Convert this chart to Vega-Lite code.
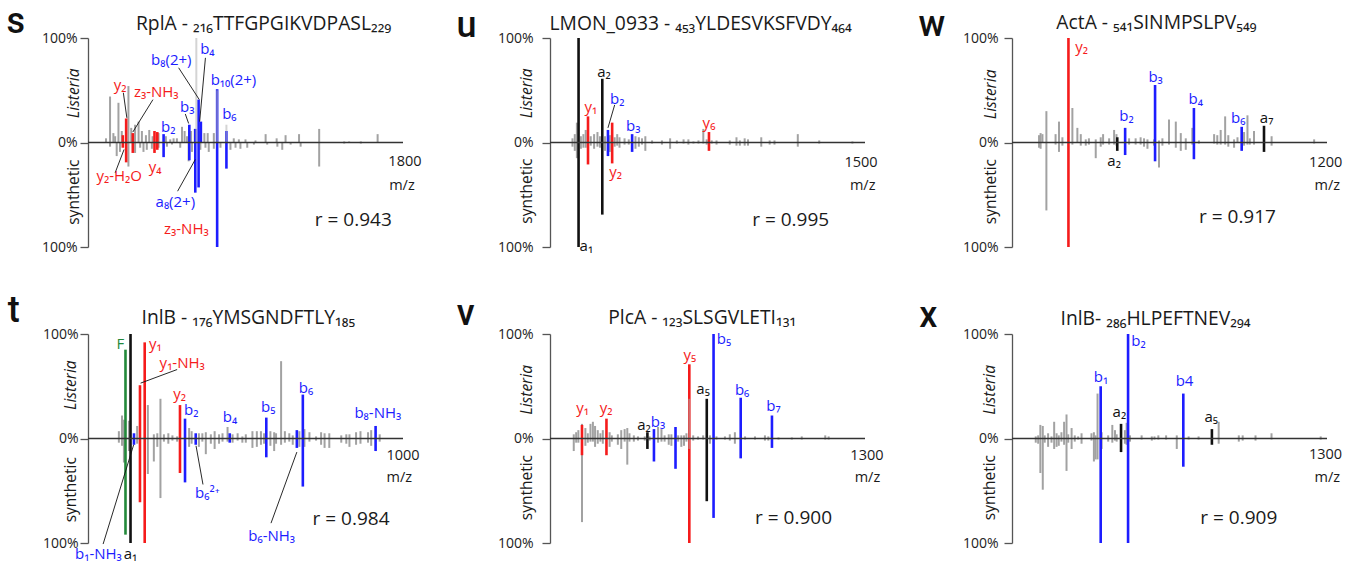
{
"$schema":"https://vega.github.io/schema/vega-lite/v6.json",
"background":"white",
"padding":{"left":6,"top":3,"right":5,"bottom":2},
"bounds":"flush",
"columns":3,
"spacing":{"row":87,"column":147},
"config":{"view":{"stroke":null},"font":"Open Sans",
"axisY":{"grid":false,"domainColor":"#555","domainWidth":1.3,"tickColor":"#555","tickWidth":1.3,"tickSize":8,"labelFontSize":14,"labelColor":"#222","labelFont":"Open Sans"}},
"datasets":{
"pS":[{"mz":103,"int":4,"ion":"u"},{"mz":126,"int":44,"ion":"u"},{"mz":145,"int":9,"ion":"u"},{"mz":155,"int":6,"ion":"u"},{"mz":174,"int":38,"ion":"u"},{"mz":193,"int":11,"ion":"u"},{"mz":231,"int":54,"ion":"u"},{"mz":247,"int":14,"ion":"u"},{"mz":269,"int":17,"ion":"u"},{"mz":289,"int":20,"ion":"u"},{"mz":308,"int":11,"ion":"u"},{"mz":331,"int":7,"ion":"u"},{"mz":350,"int":12,"ion":"u"},{"mz":369,"int":6,"ion":"u"},{"mz":403,"int":9,"ion":"u"},{"mz":445,"int":6,"ion":"u"},{"mz":470,"int":3,"ion":"u"},{"mz":489,"int":4,"ion":"u"},{"mz":508,"int":4,"ion":"u"},{"mz":537,"int":15,"ion":"u"},{"mz":552,"int":11,"ion":"u"},{"mz":566,"int":6,"ion":"u"},{"mz":589,"int":11,"ion":"u"},{"mz":610,"int":13,"ion":"u"},{"mz":642,"int":11,"ion":"u"},{"mz":665,"int":9,"ion":"u"},{"mz":684,"int":9,"ion":"u"},{"mz":719,"int":9,"ion":"u"},{"mz":833,"int":4,"ion":"u"},{"mz":862,"int":3,"ion":"u"},{"mz":900,"int":3,"ion":"u"},{"mz":957,"int":2,"ion":"u"},{"mz":1015,"int":8,"ion":"u"},{"mz":1078,"int":4,"ion":"u"},{"mz":1129,"int":7,"ion":"u"},{"mz":1206,"int":8,"ion":"u"},{"mz":1321,"int":13,"ion":"u"},{"mz":1464,"int":1,"ion":"u"},{"mz":1492,"int":1,"ion":"u"},{"mz":1559,"int":1,"ion":"u"},{"mz":1655,"int":8,"ion":"u"},
{"mz":126,"int":-4,"ion":"u"},{"mz":164,"int":-13,"ion":"u"},{"mz":183,"int":-9,"ion":"u"},{"mz":231,"int":-23,"ion":"u"},{"mz":269,"int":-10,"ion":"u"},{"mz":298,"int":-5,"ion":"u"},{"mz":317,"int":-9,"ion":"u"},{"mz":336,"int":-7,"ion":"u"},{"mz":365,"int":-6,"ion":"u"},{"mz":403,"int":-5,"ion":"u"},{"mz":451,"int":-4,"ion":"u"},{"mz":480,"int":-2,"ion":"u"},{"mz":527,"int":-5,"ion":"u"},{"mz":575,"int":-18,"ion":"u"},{"mz":594,"int":-9,"ion":"u"},{"mz":642,"int":-7,"ion":"u"},{"mz":671,"int":-5,"ion":"u"},{"mz":690,"int":-9,"ion":"u"},{"mz":719,"int":-6,"ion":"u"},{"mz":757,"int":-5,"ion":"u"},{"mz":814,"int":-7,"ion":"u"},{"mz":843,"int":-5,"ion":"u"},{"mz":871,"int":-6,"ion":"u"},{"mz":910,"int":-5,"ion":"u"},{"mz":948,"int":-2,"ion":"u"},{"mz":1024,"int":-2,"ion":"u"},{"mz":1082,"int":-4,"ion":"u"},{"mz":1110,"int":-7,"ion":"u"},{"mz":1158,"int":-2,"ion":"u"},{"mz":1215,"int":-4,"ion":"u"},{"mz":1321,"int":-23,"ion":"u"},{"mz":1464,"int":-1,"ion":"u"},{"mz":1559,"int":-1,"ion":"u"},
{"mz":199,"int":7,"ion":"y"},{"mz":199,"int":-5,"ion":"y"},{"mz":218,"int":23,"ion":"y"},{"mz":218,"int":-19,"ion":"y"},{"mz":256,"int":9,"ion":"y"},{"mz":256,"int":-10,"ion":"y"},{"mz":380,"int":11,"ion":"y"},{"mz":380,"int":-10,"ion":"y"},{"mz":396,"int":10,"ion":"y"},{"mz":396,"int":-7,"ion":"y"},
{"mz":432,"int":8,"ion":"b"},{"mz":432,"int":-14,"ion":"b"},{"mz":579,"int":17,"ion":"b"},{"mz":579,"int":-17,"ion":"b"},{"mz":613,"int":13,"ion":"b"},{"mz":613,"int":-48,"ion":"b"},{"mz":632,"int":41,"ion":"b"},{"mz":632,"int":-43,"ion":"b"},{"mz":645,"int":20,"ion":"b"},{"mz":738,"int":51,"ion":"b"},{"mz":738,"int":-100,"ion":"b"},{"mz":791,"int":11,"ion":"b"},{"mz":791,"int":-25,"ion":"b"},
{"mz":619,"int":100,"ion":"uf"},{"mz":738,"int":50,"ion":"uf"},{"mz":791,"int":17,"ion":"uf"}],
"lS":[{"mz":183,"int":55.5,"t":"y₂","ion":"y"},{"mz":390,"int":48,"t":"z₃-NH₃","ion":"y"},{"mz":459,"int":15,"t":"b₂","ion":"b"},{"mz":567,"int":33.5,"t":"b₃","ion":"b"},{"mz":476,"int":79,"t":"b₈(2+)","ion":"b"},{"mz":682,"int":89,"t":"b₄","ion":"b"},{"mz":831,"int":60,"t":"b₁₀(2+)","ion":"b"},{"mz":808,"int":27,"t":"b₆","ion":"b"},{"mz":384,"int":-23,"t":"y₄","ion":"y"},{"mz":178,"int":-32.5,"t":"y₂-H₂O","ion":"y"},{"mz":499,"int":-57,"t":"a₈(2+)","ion":"b"},{"mz":562,"int":-83,"t":"z₃-NH₃","ion":"y"}],
"sS":[{"mz":202,"int":47.6,"mz2":222,"int2":23.6},{"mz":371,"int":41,"mz2":256,"int2":10},{"mz":556,"int":27.3,"mz2":575,"int2":18.2},{"mz":518,"int":71.5,"mz2":636,"int2":41},{"mz":671,"int":81,"mz2":638,"int2":20},{"mz":155,"int":-29,"mz2":206,"int2":-6.7},{"mz":512,"int":-46.6,"mz2":613,"int2":-16.3}],
"aS":[{"mz":1811,"int":-19,"t":"1800","role":"axis"},{"mz":1794,"int":-42,"t":"m/z","role":"axis"},{"mz":1516,"int":-74,"t":"r = 0.943","role":"r"},{"mz":1003,"int":113,"t":"RplA - ₂₁₆TTFGPGIKVDPASL₂₂₉","role":"title"},{"mz":-413,"int":104.8,"t":"s","role":"panel"},{"mz":-82,"int":47,"t":"Listeria","role":"src"},{"mz":-82,"int":-47.5,"t":"synthetic","role":"syn"}],
"pU":[{"mz":107,"int":4,"ion":"u"},{"mz":118,"int":8,"ion":"u"},{"mz":128,"int":19,"ion":"u"},{"mz":147,"int":6,"ion":"u"},{"mz":159,"int":8,"ion":"u"},{"mz":170,"int":12,"ion":"u"},{"mz":194,"int":6,"ion":"u"},{"mz":210,"int":8,"ion":"u"},{"mz":226,"int":10,"ion":"u"},{"mz":238,"int":6,"ion":"u"},{"mz":262,"int":6,"ion":"u"},{"mz":285,"int":7,"ion":"u"},{"mz":308,"int":5,"ion":"u"},{"mz":320,"int":8,"ion":"u"},{"mz":331,"int":5,"ion":"u"},{"mz":355,"int":4,"ion":"u"},{"mz":375,"int":3,"ion":"u"},{"mz":407,"int":6,"ion":"u"},{"mz":423,"int":5,"ion":"u"},{"mz":438,"int":4,"ion":"u"},{"mz":454,"int":6,"ion":"u"},{"mz":486,"int":2,"ion":"u"},{"mz":533,"int":2,"ion":"u"},{"mz":572,"int":4,"ion":"u"},{"mz":604,"int":2,"ion":"u"},{"mz":636,"int":3,"ion":"u"},{"mz":659,"int":3,"ion":"u"},{"mz":683,"int":1,"ion":"u"},{"mz":707,"int":2,"ion":"u"},{"mz":730,"int":13,"ion":"u"},{"mz":746,"int":3,"ion":"u"},{"mz":770,"int":2,"ion":"u"},{"mz":793,"int":2,"ion":"u"},{"mz":856,"int":2,"ion":"u"},{"mz":888,"int":5,"ion":"u"},{"mz":904,"int":2,"ion":"u"},{"mz":927,"int":4,"ion":"u"},{"mz":943,"int":3,"ion":"u"},{"mz":1006,"int":5,"ion":"u"},{"mz":1046,"int":2,"ion":"u"},{"mz":1069,"int":2,"ion":"u"},{"mz":1180,"int":8,"ion":"u"},{"mz":1282,"int":2,"ion":"u"},{"mz":1440,"int":1,"ion":"u"},
{"mz":107,"int":-4,"ion":"u"},{"mz":118,"int":-8,"ion":"u"},{"mz":128,"int":-15,"ion":"u"},{"mz":147,"int":-6,"ion":"u"},{"mz":159,"int":-5,"ion":"u"},{"mz":170,"int":-5,"ion":"u"},{"mz":194,"int":-3,"ion":"u"},{"mz":210,"int":-6,"ion":"u"},{"mz":226,"int":-4,"ion":"u"},{"mz":238,"int":-5,"ion":"u"},{"mz":262,"int":-8,"ion":"u"},{"mz":285,"int":-9,"ion":"u"},{"mz":308,"int":-4,"ion":"u"},{"mz":320,"int":-3,"ion":"u"},{"mz":331,"int":-5,"ion":"u"},{"mz":355,"int":-2,"ion":"u"},{"mz":375,"int":-2,"ion":"u"},{"mz":407,"int":-6,"ion":"u"},{"mz":423,"int":-4,"ion":"u"},{"mz":438,"int":-2,"ion":"u"},{"mz":454,"int":-8,"ion":"u"},{"mz":486,"int":-1,"ion":"u"},{"mz":533,"int":-2,"ion":"u"},{"mz":572,"int":-6,"ion":"u"},{"mz":604,"int":-1,"ion":"u"},{"mz":636,"int":-1,"ion":"u"},{"mz":659,"int":-2,"ion":"u"},{"mz":683,"int":-1,"ion":"u"},{"mz":707,"int":-1,"ion":"u"},{"mz":730,"int":-1,"ion":"u"},{"mz":746,"int":-2,"ion":"u"},{"mz":770,"int":-1,"ion":"u"},{"mz":793,"int":-2,"ion":"u"},{"mz":856,"int":-2,"ion":"u"},{"mz":888,"int":-3,"ion":"u"},{"mz":904,"int":-3,"ion":"u"},{"mz":927,"int":-3,"ion":"u"},{"mz":943,"int":-3,"ion":"u"},{"mz":1006,"int":-4,"ion":"u"},{"mz":1046,"int":-2,"ion":"u"},{"mz":1069,"int":-2,"ion":"u"},{"mz":1180,"int":-4,"ion":"u"},{"mz":1282,"int":-1,"ion":"u"},{"mz":1440,"int":-1,"ion":"u"},
{"mz":136,"int":100,"ion":"a"},{"mz":136,"int":-100,"ion":"a"},{"mz":249,"int":61,"ion":"a"},{"mz":249,"int":-69,"ion":"a"},
{"mz":181,"int":25,"ion":"y"},{"mz":181,"int":-21,"ion":"y"},{"mz":296,"int":19,"ion":"y"},{"mz":296,"int":-20,"ion":"y"},{"mz":757,"int":10,"ion":"y"},{"mz":757,"int":-8,"ion":"y"},
{"mz":276,"int":12,"ion":"b"},{"mz":276,"int":-13,"ion":"b"},{"mz":391,"int":8,"ion":"b"},{"mz":391,"int":-9,"ion":"b"}],
"lU":[{"mz":257,"int":67,"t":"a₂","ion":"a"},{"mz":194,"int":34,"t":"y₁","ion":"y"},{"mz":320,"int":42,"t":"b₂","ion":"b"},{"mz":396,"int":16,"t":"b₃","ion":"b"},{"mz":757,"int":19,"t":"y₆","ion":"y"},{"mz":312,"int":-28.5,"t":"y₂","ion":"y"},{"mz":173,"int":-99,"t":"a₁","ion":"a"}],
"sU":[{"mz":308,"int":36,"mz2":276,"int2":14}],
"aU":[{"mz":1481,"int":-19.6,"t":"1500","role":"axis"},{"mz":1489,"int":-42,"t":"m/z","role":"axis"},{"mz":1146,"int":-74,"t":"r = 0.995","role":"r"},{"mz":717,"int":113,"t":"LMON_0933 - ₄₅₃YLDESVKSFVDY₄₆₄","role":"title"},{"mz":-397,"int":101.3,"t":"u","role":"panel"},{"mz":-110,"int":47,"t":"Listeria","role":"src"},{"mz":-110,"int":-46.5,"t":"synthetic","role":"syn"}],
"pW":[{"mz":103,"int":7,"ion":"u"},{"mz":109,"int":9,"ion":"u"},{"mz":116,"int":8,"ion":"u"},{"mz":131,"int":30,"ion":"u"},{"mz":166,"int":8,"ion":"u"},{"mz":179,"int":20,"ion":"u"},{"mz":192,"int":5,"ion":"u"},{"mz":230,"int":33,"ion":"u"},{"mz":249,"int":14,"ion":"u"},{"mz":262,"int":8,"ion":"u"},{"mz":281,"int":3,"ion":"u"},{"mz":293,"int":4,"ion":"u"},{"mz":319,"int":3,"ion":"u"},{"mz":338,"int":5,"ion":"u"},{"mz":347,"int":8,"ion":"u"},{"mz":370,"int":4,"ion":"u"},{"mz":389,"int":12,"ion":"u"},{"mz":398,"int":8,"ion":"u"},{"mz":446,"int":4,"ion":"u"},{"mz":471,"int":4,"ion":"u"},{"mz":490,"int":5,"ion":"u"},{"mz":503,"int":4,"ion":"u"},{"mz":516,"int":3,"ion":"u"},{"mz":541,"int":3,"ion":"u"},{"mz":560,"int":2,"ion":"u"},{"mz":573,"int":4,"ion":"u"},{"mz":598,"int":22,"ion":"u"},{"mz":624,"int":20,"ion":"u"},{"mz":643,"int":9,"ion":"u"},{"mz":662,"int":4,"ion":"u"},{"mz":687,"int":14,"ion":"u"},{"mz":712,"int":2,"ion":"u"},{"mz":770,"int":8,"ion":"u"},{"mz":782,"int":7,"ion":"u"},{"mz":795,"int":12,"ion":"u"},{"mz":812,"int":25,"ion":"u"},{"mz":824,"int":7,"ion":"u"},{"mz":846,"int":3,"ion":"u"},{"mz":859,"int":5,"ion":"u"},{"mz":884,"int":10,"ion":"u"},{"mz":897,"int":26,"ion":"u"},{"mz":906,"int":4,"ion":"u"},{"mz":922,"int":11,"ion":"u"},{"mz":989,"int":6,"ion":"u"},{"mz":1151,"int":3,"ion":"u"},
{"mz":103,"int":-5,"ion":"u"},{"mz":109,"int":-6,"ion":"u"},{"mz":131,"int":-65,"ion":"u"},{"mz":166,"int":-2,"ion":"u"},{"mz":179,"int":-9,"ion":"u"},{"mz":192,"int":-3,"ion":"u"},{"mz":230,"int":-2,"ion":"u"},{"mz":262,"int":-3,"ion":"u"},{"mz":281,"int":-3,"ion":"u"},{"mz":293,"int":-2,"ion":"u"},{"mz":319,"int":-15,"ion":"u"},{"mz":338,"int":-4,"ion":"u"},{"mz":347,"int":-2,"ion":"u"},{"mz":370,"int":-2,"ion":"u"},{"mz":389,"int":-2,"ion":"u"},{"mz":398,"int":-3,"ion":"u"},{"mz":446,"int":-2,"ion":"u"},{"mz":471,"int":-2,"ion":"u"},{"mz":490,"int":-2,"ion":"u"},{"mz":503,"int":-4,"ion":"u"},{"mz":516,"int":-6,"ion":"u"},{"mz":541,"int":-3,"ion":"u"},{"mz":560,"int":-24,"ion":"u"},{"mz":573,"int":-3,"ion":"u"},{"mz":598,"int":-2,"ion":"u"},{"mz":624,"int":-5,"ion":"u"},{"mz":643,"int":-8,"ion":"u"},{"mz":662,"int":-7,"ion":"u"},{"mz":687,"int":-2,"ion":"u"},{"mz":712,"int":-1,"ion":"u"},{"mz":770,"int":-1,"ion":"u"},{"mz":782,"int":-2,"ion":"u"},{"mz":795,"int":-2,"ion":"u"},{"mz":812,"int":-2,"ion":"u"},{"mz":824,"int":-4,"ion":"u"},{"mz":846,"int":-5,"ion":"u"},{"mz":884,"int":-3,"ion":"u"},{"mz":897,"int":-2,"ion":"u"},{"mz":906,"int":-2,"ion":"u"},{"mz":922,"int":-2,"ion":"u"},{"mz":989,"int":-3,"ion":"u"},{"mz":1151,"int":-1,"ion":"u"},
{"mz":215,"int":100,"ion":"y"},{"mz":215,"int":-100,"ion":"y"},
{"mz":431,"int":14,"ion":"b"},{"mz":431,"int":-12,"ion":"b"},{"mz":545,"int":55,"ion":"b"},{"mz":545,"int":-18,"ion":"b"},{"mz":693,"int":33,"ion":"b"},{"mz":693,"int":-16,"ion":"b"},{"mz":875,"int":15,"ion":"b"},{"mz":875,"int":-8,"ion":"b"},
{"mz":401,"int":5,"ion":"a"},{"mz":401,"int":-8,"ion":"a"},{"mz":960,"int":16,"ion":"a"},{"mz":960,"int":-9,"ion":"a"}],
"lW":[{"mz":265,"int":91,"t":"y₂","ion":"y"},{"mz":436,"int":25,"t":"b₂","ion":"b"},{"mz":547,"int":63,"t":"b₃","ion":"b"},{"mz":700,"int":42,"t":"b₄","ion":"b"},{"mz":862,"int":23,"t":"b₆","ion":"b"},{"mz":970,"int":23,"t":"a₇","ion":"a"},{"mz":389,"int":-18,"t":"a₂","ion":"a"}],
"aW":[{"mz":1195,"int":-20,"t":"1200","role":"axis"},{"mz":1201,"int":-42,"t":"m/z","role":"axis"},{"mz":859,"int":-71,"t":"r = 0.917","role":"r"},{"mz":550,"int":114,"t":"ActA - ₅₄₁SINMPSLPV₅₄₉","role":"title"},{"mz":-305,"int":102.3,"t":"w","role":"panel"},{"mz":-81,"int":46,"t":"Listeria","role":"src"},{"mz":-81,"int":-47,"t":"synthetic","role":"syn"}],
"pT":[{"mz":98,"int":7,"ion":"u"},{"mz":108,"int":22,"ion":"u"},{"mz":114,"int":18,"ion":"u"},{"mz":130,"int":17,"ion":"u"},{"mz":156,"int":12,"ion":"u"},{"mz":190,"int":32,"ion":"u"},{"mz":209,"int":4,"ion":"u"},{"mz":220,"int":5,"ion":"u"},{"mz":230,"int":38,"ion":"u"},{"mz":241,"int":4,"ion":"u"},{"mz":255,"int":5,"ion":"u"},{"mz":268,"int":3,"ion":"u"},{"mz":283,"int":2,"ion":"u"},{"mz":321,"int":10,"ion":"u"},{"mz":329,"int":7,"ion":"u"},{"mz":352,"int":5,"ion":"u"},{"mz":363,"int":5,"ion":"u"},{"mz":374,"int":6,"ion":"u"},{"mz":390,"int":4,"ion":"u"},{"mz":402,"int":7,"ion":"u"},{"mz":416,"int":4,"ion":"u"},{"mz":427,"int":5,"ion":"u"},{"mz":443,"int":11,"ion":"u"},{"mz":459,"int":4,"ion":"u"},{"mz":475,"int":5,"ion":"u"},{"mz":490,"int":2,"ion":"u"},{"mz":501,"int":4,"ion":"u"},{"mz":522,"int":7,"ion":"u"},{"mz":536,"int":7,"ion":"u"},{"mz":549,"int":7,"ion":"u"},{"mz":559,"int":5,"ion":"u"},{"mz":579,"int":7,"ion":"u"},{"mz":591,"int":6,"ion":"u"},{"mz":597,"int":5,"ion":"u"},{"mz":613,"int":74,"ion":"u"},{"mz":625,"int":7,"ion":"u"},{"mz":639,"int":5,"ion":"u"},{"mz":650,"int":3,"ion":"u"},{"mz":671,"int":7,"ion":"u"},{"mz":687,"int":9,"ion":"u"},{"mz":703,"int":6,"ion":"u"},{"mz":724,"int":2,"ion":"u"},{"mz":740,"int":6,"ion":"u"},{"mz":751,"int":5,"ion":"u"},{"mz":766,"int":5,"ion":"u"},{"mz":804,"int":3,"ion":"u"},{"mz":820,"int":4,"ion":"u"},{"mz":830,"int":4,"ion":"u"},{"mz":851,"int":6,"ion":"u"},{"mz":865,"int":7,"ion":"u"},{"mz":889,"int":6,"ion":"u"},{"mz":899,"int":8,"ion":"u"},{"mz":926,"int":4,"ion":"u"},
{"mz":98,"int":-4,"ion":"u"},{"mz":108,"int":-7,"ion":"u"},{"mz":114,"int":-23,"ion":"u"},{"mz":130,"int":-12,"ion":"u"},{"mz":156,"int":-5,"ion":"u"},{"mz":190,"int":-34,"ion":"u"},{"mz":209,"int":-22,"ion":"u"},{"mz":220,"int":-8,"ion":"u"},{"mz":230,"int":-57,"ion":"u"},{"mz":241,"int":-3,"ion":"u"},{"mz":255,"int":-5,"ion":"u"},{"mz":268,"int":-2,"ion":"u"},{"mz":283,"int":-3,"ion":"u"},{"mz":321,"int":-8,"ion":"u"},{"mz":329,"int":-5,"ion":"u"},{"mz":352,"int":-8,"ion":"u"},{"mz":363,"int":-3,"ion":"u"},{"mz":374,"int":-15,"ion":"u"},{"mz":390,"int":-5,"ion":"u"},{"mz":402,"int":-10,"ion":"u"},{"mz":416,"int":-5,"ion":"u"},{"mz":427,"int":-3,"ion":"u"},{"mz":443,"int":-3,"ion":"u"},{"mz":459,"int":-4,"ion":"u"},{"mz":475,"int":-2,"ion":"u"},{"mz":490,"int":-4,"ion":"u"},{"mz":501,"int":-4,"ion":"u"},{"mz":522,"int":-9,"ion":"u"},{"mz":536,"int":-8,"ion":"u"},{"mz":549,"int":-6,"ion":"u"},{"mz":559,"int":-5,"ion":"u"},{"mz":579,"int":-7,"ion":"u"},{"mz":591,"int":-12,"ion":"u"},{"mz":597,"int":-5,"ion":"u"},{"mz":613,"int":-6,"ion":"u"},{"mz":625,"int":-4,"ion":"u"},{"mz":639,"int":-3,"ion":"u"},{"mz":650,"int":-6,"ion":"u"},{"mz":671,"int":-8,"ion":"u"},{"mz":687,"int":-8,"ion":"u"},{"mz":703,"int":-3,"ion":"u"},{"mz":724,"int":-2,"ion":"u"},{"mz":740,"int":-6,"ion":"u"},{"mz":751,"int":-9,"ion":"u"},{"mz":766,"int":-9,"ion":"u"},{"mz":804,"int":-4,"ion":"u"},{"mz":820,"int":-5,"ion":"u"},{"mz":830,"int":-8,"ion":"u"},{"mz":851,"int":-6,"ion":"u"},{"mz":865,"int":-5,"ion":"u"},{"mz":889,"int":-4,"ion":"u"},{"mz":899,"int":-7,"ion":"u"},{"mz":926,"int":-3,"ion":"u"},
{"mz":119,"int":85,"ion":"imm"},{"mz":119,"int":-92,"ion":"imm"},
{"mz":135,"int":100,"ion":"a"},{"mz":135,"int":-100,"ion":"a"},
{"mz":146,"int":5,"ion":"b"},{"mz":146,"int":-6,"ion":"b"},{"mz":308,"int":19,"ion":"b"},{"mz":308,"int":-42,"ion":"b"},{"mz":342,"int":5,"ion":"b"},{"mz":342,"int":-6,"ion":"b"},{"mz":450,"int":5,"ion":"b"},{"mz":450,"int":-4,"ion":"b"},{"mz":566,"int":20,"ion":"b"},{"mz":566,"int":-18,"ion":"b"},{"mz":663,"int":8,"ion":"b"},{"mz":663,"int":-9,"ion":"b"},{"mz":682,"int":42,"ion":"b"},{"mz":682,"int":-46,"ion":"b"},{"mz":913,"int":12,"ion":"b"},{"mz":913,"int":-12,"ion":"b"},
{"mz":165,"int":51,"ion":"y"},{"mz":165,"int":-61,"ion":"y"},{"mz":180,"int":92,"ion":"y"},{"mz":180,"int":-100,"ion":"y"},{"mz":292,"int":32,"ion":"y"},{"mz":292,"int":-33,"ion":"y"}],
"lT":[{"mz":103,"int":90,"t":"F","ion":"imm"},{"mz":214,"int":90,"t":"y₁","ion":"y"},{"mz":299,"int":72,"t":"y₁-NH₃","ion":"y"},{"mz":291,"int":43,"t":"y₂","ion":"y"},{"mz":328,"int":27,"t":"b₂","ion":"b"},{"mz":451,"int":21,"t":"b₄","ion":"b"},{"mz":572,"int":30,"t":"b₅","ion":"b"},{"mz":692,"int":48,"t":"b₆","ion":"b"},{"mz":920,"int":24.5,"t":"b₈-NH₃","ion":"b"},{"mz":379,"int":-52,"t":"b₆²⁺","ion":"b"},{"mz":583,"int":-93,"t":"b₆-NH₃","ion":"b"},{"mz":33,"int":-111,"t":"b₁-NH₃","ion":"b"},{"mz":135,"int":-111,"t":"a₁","ion":"a"}],
"sT":[{"mz":283,"int":66,"mz2":167,"int2":53},{"mz":365,"int":-44,"mz2":343,"int2":-7},{"mz":581,"int":-81,"mz2":663,"int2":-13},{"mz":48,"int":-101,"mz2":145,"int2":-6}],
"aT":[{"mz":1000,"int":-16.6,"t":"1000","role":"axis"},{"mz":988,"int":-38,"t":"m/z","role":"axis"},{"mz":835,"int":-77,"t":"r = 0.984","role":"r"},{"mz":509,"int":115,"t":"InlB - ₁₇₆YMSGNDFTLY₁₈₅","role":"title"},{"mz":-236,"int":111.7,"t":"t","role":"panel"},{"mz":-54,"int":51,"t":"Listeria","role":"src"},{"mz":-54,"int":-49,"t":"synthetic","role":"syn"}],
"pV":[{"mz":98,"int":4,"ion":"u"},{"mz":108,"int":6,"ion":"u"},{"mz":117,"int":8,"ion":"u"},{"mz":132,"int":14,"ion":"u"},{"mz":146,"int":10,"ion":"u"},{"mz":156,"int":5,"ion":"u"},{"mz":167,"int":14,"ion":"u"},{"mz":177,"int":16,"ion":"u"},{"mz":186,"int":12,"ion":"u"},{"mz":197,"int":8,"ion":"u"},{"mz":208,"int":5,"ion":"u"},{"mz":218,"int":8,"ion":"u"},{"mz":246,"int":6,"ion":"u"},{"mz":255,"int":3,"ion":"u"},{"mz":280,"int":4,"ion":"u"},{"mz":294,"int":8,"ion":"u"},{"mz":308,"int":9,"ion":"u"},{"mz":319,"int":10,"ion":"u"},{"mz":328,"int":5,"ion":"u"},{"mz":346,"int":3,"ion":"u"},{"mz":363,"int":2,"ion":"u"},{"mz":391,"int":2,"ion":"u"},{"mz":411,"int":2,"ion":"u"},{"mz":446,"int":11,"ion":"u"},{"mz":460,"int":9,"ion":"u"},{"mz":473,"int":3,"ion":"u"},{"mz":490,"int":4,"ion":"u"},{"mz":501,"int":4,"ion":"u"},{"mz":529,"int":3,"ion":"u"},{"mz":542,"int":3,"ion":"u"},{"mz":553,"int":3,"ion":"u"},{"mz":563,"int":5,"ion":"u"},{"mz":591,"int":3,"ion":"u"},{"mz":611,"int":2,"ion":"u"},{"mz":632,"int":3,"ion":"u"},{"mz":660,"int":3,"ion":"u"},{"mz":687,"int":2,"ion":"u"},{"mz":722,"int":2,"ion":"u"},{"mz":742,"int":4,"ion":"u"},{"mz":763,"int":6,"ion":"u"},{"mz":805,"int":2,"ion":"u"},{"mz":846,"int":2,"ion":"u"},{"mz":887,"int":3,"ion":"u"},{"mz":901,"int":2,"ion":"u"},{"mz":943,"int":1,"ion":"u"},{"mz":998,"int":1,"ion":"u"},{"mz":1039,"int":2,"ion":"u"},{"mz":1136,"int":3,"ion":"u"},{"mz":1150,"int":2,"ion":"u"},
{"mz":98,"int":-12,"ion":"u"},{"mz":108,"int":-4,"ion":"u"},{"mz":117,"int":-4,"ion":"u"},{"mz":132,"int":-80,"ion":"u"},{"mz":146,"int":-7,"ion":"u"},{"mz":156,"int":-4,"ion":"u"},{"mz":167,"int":-3,"ion":"u"},{"mz":177,"int":-3,"ion":"u"},{"mz":186,"int":-8,"ion":"u"},{"mz":197,"int":-5,"ion":"u"},{"mz":208,"int":-3,"ion":"u"},{"mz":218,"int":-5,"ion":"u"},{"mz":246,"int":-8,"ion":"u"},{"mz":255,"int":-3,"ion":"u"},{"mz":280,"int":-6,"ion":"u"},{"mz":294,"int":-10,"ion":"u"},{"mz":308,"int":-3,"ion":"u"},{"mz":319,"int":-25,"ion":"u"},{"mz":328,"int":-3,"ion":"u"},{"mz":346,"int":-3,"ion":"u"},{"mz":363,"int":-2,"ion":"u"},{"mz":391,"int":-2,"ion":"u"},{"mz":411,"int":-2,"ion":"u"},{"mz":446,"int":-4,"ion":"u"},{"mz":460,"int":-3,"ion":"u"},{"mz":473,"int":-3,"ion":"u"},{"mz":490,"int":-6,"ion":"u"},{"mz":501,"int":-7,"ion":"u"},{"mz":529,"int":-3,"ion":"u"},{"mz":542,"int":-8,"ion":"u"},{"mz":553,"int":-7,"ion":"u"},{"mz":563,"int":-3,"ion":"u"},{"mz":591,"int":-2,"ion":"u"},{"mz":611,"int":-1,"ion":"u"},{"mz":632,"int":-1,"ion":"u"},{"mz":660,"int":-5,"ion":"u"},{"mz":687,"int":-1,"ion":"u"},{"mz":722,"int":-1,"ion":"u"},{"mz":742,"int":-2,"ion":"u"},{"mz":763,"int":-5,"ion":"u"},{"mz":805,"int":-1,"ion":"u"},{"mz":846,"int":-1,"ion":"u"},{"mz":887,"int":-2,"ion":"u"},{"mz":901,"int":-2,"ion":"u"},{"mz":943,"int":-1,"ion":"u"},{"mz":998,"int":-1,"ion":"u"},{"mz":1039,"int":-1,"ion":"u"},{"mz":1136,"int":-1,"ion":"u"},{"mz":1150,"int":-1,"ion":"u"},
{"mz":132,"int":13,"ion":"y"},{"mz":132,"int":-16,"ion":"y"},{"mz":233,"int":19,"ion":"y"},{"mz":233,"int":-16,"ion":"y"},{"mz":575,"int":71,"ion":"y"},{"mz":575,"int":-100,"ion":"y"},
{"mz":402,"int":6,"ion":"a"},{"mz":402,"int":-10,"ion":"a"},{"mz":647,"int":38,"ion":"a"},{"mz":647,"int":-60,"ion":"a"},
{"mz":429,"int":9,"ion":"b"},{"mz":429,"int":-22,"ion":"b"},{"mz":518,"int":11,"ion":"b"},{"mz":518,"int":-29,"ion":"b"},{"mz":675,"int":100,"ion":"b"},{"mz":675,"int":-76,"ion":"b"},{"mz":787,"int":39,"ion":"b"},{"mz":787,"int":-19,"ion":"b"},{"mz":916,"int":22,"ion":"b"},{"mz":916,"int":-9,"ion":"b"},
{"mz":575,"int":38,"ion":"uf"},{"mz":575,"int":-10,"ion":"uf"}],
"lV":[{"mz":135,"int":29,"t":"y₁","ion":"y"},{"mz":232,"int":29,"t":"y₂","ion":"y"},{"mz":388,"int":13,"t":"a₂","ion":"a"},{"mz":446,"int":16,"t":"b₃","ion":"b"},{"mz":577,"int":80,"t":"y₅","ion":"y"},{"mz":632,"int":47,"t":"a₅","ion":"a"},{"mz":718,"int":95,"t":"b₅","ion":"b"},{"mz":793,"int":46,"t":"b₆","ion":"b"},{"mz":922,"int":31,"t":"b₇","ion":"b"}],
"aV":[{"mz":1308,"int":-16.8,"t":"1300","role":"axis"},{"mz":1310,"int":-38,"t":"m/z","role":"axis"},{"mz":1005,"int":-76,"t":"r = 0.900","role":"r"},{"mz":628,"int":115,"t":"PlcA - ₁₂₃SLSGVLETI₁₃₁","role":"title"},{"mz":-348,"int":108.6,"t":"v","role":"panel"},{"mz":-96,"int":46.5,"t":"Listeria","role":"src"},{"mz":-96,"int":-47,"t":"synthetic","role":"syn"}],
"pX":[{"mz":98,"int":2,"ion":"u"},{"mz":108,"int":3,"ion":"u"},{"mz":117,"int":13,"ion":"u"},{"mz":127,"int":12,"ion":"u"},{"mz":135,"int":3,"ion":"u"},{"mz":149,"int":5,"ion":"u"},{"mz":163,"int":2,"ion":"u"},{"mz":174,"int":16,"ion":"u"},{"mz":184,"int":5,"ion":"u"},{"mz":193,"int":3,"ion":"u"},{"mz":204,"int":6,"ion":"u"},{"mz":215,"int":16,"ion":"u"},{"mz":225,"int":23,"ion":"u"},{"mz":232,"int":4,"ion":"u"},{"mz":246,"int":10,"ion":"u"},{"mz":259,"int":3,"ion":"u"},{"mz":273,"int":2,"ion":"u"},{"mz":287,"int":5,"ion":"u"},{"mz":328,"int":5,"ion":"u"},{"mz":338,"int":6,"ion":"u"},{"mz":345,"int":3,"ion":"u"},{"mz":353,"int":43,"ion":"u"},{"mz":370,"int":6,"ion":"u"},{"mz":397,"int":3,"ion":"u"},{"mz":414,"int":13,"ion":"u"},{"mz":425,"int":8,"ion":"u"},{"mz":432,"int":4,"ion":"u"},{"mz":466,"int":8,"ion":"u"},{"mz":473,"int":15,"ion":"u"},{"mz":487,"int":3,"ion":"u"},{"mz":535,"int":3,"ion":"u"},{"mz":577,"int":2,"ion":"u"},{"mz":588,"int":2,"ion":"u"},{"mz":604,"int":3,"ion":"u"},{"mz":636,"int":3,"ion":"u"},{"mz":680,"int":3,"ion":"u"},{"mz":729,"int":2,"ion":"u"},{"mz":770,"int":2,"ion":"u"},{"mz":853,"int":16,"ion":"u"},{"mz":936,"int":3,"ion":"u"},{"mz":952,"int":3,"ion":"u"},{"mz":1005,"int":3,"ion":"u"},{"mz":1071,"int":5,"ion":"u"},{"mz":1274,"int":2,"ion":"u"},
{"mz":98,"int":-4,"ion":"u"},{"mz":108,"int":-5,"ion":"u"},{"mz":117,"int":-33,"ion":"u"},{"mz":127,"int":-49,"ion":"u"},{"mz":135,"int":-4,"ion":"u"},{"mz":149,"int":-8,"ion":"u"},{"mz":163,"int":-4,"ion":"u"},{"mz":174,"int":-10,"ion":"u"},{"mz":184,"int":-8,"ion":"u"},{"mz":193,"int":-7,"ion":"u"},{"mz":204,"int":-3,"ion":"u"},{"mz":215,"int":-6,"ion":"u"},{"mz":225,"int":-31,"ion":"u"},{"mz":232,"int":-4,"ion":"u"},{"mz":246,"int":-10,"ion":"u"},{"mz":259,"int":-3,"ion":"u"},{"mz":273,"int":-1,"ion":"u"},{"mz":287,"int":-5,"ion":"u"},{"mz":328,"int":-2,"ion":"u"},{"mz":338,"int":-22,"ion":"u"},{"mz":345,"int":-20,"ion":"u"},{"mz":353,"int":-20,"ion":"u"},{"mz":370,"int":-10,"ion":"u"},{"mz":397,"int":-3,"ion":"u"},{"mz":414,"int":-4,"ion":"u"},{"mz":425,"int":-2,"ion":"u"},{"mz":432,"int":-3,"ion":"u"},{"mz":466,"int":-5,"ion":"u"},{"mz":473,"int":-6,"ion":"u"},{"mz":487,"int":-3,"ion":"u"},{"mz":535,"int":-1,"ion":"u"},{"mz":577,"int":-2,"ion":"u"},{"mz":588,"int":-1,"ion":"u"},{"mz":604,"int":-1,"ion":"u"},{"mz":636,"int":-1,"ion":"u"},{"mz":680,"int":-10,"ion":"u"},{"mz":729,"int":-1,"ion":"u"},{"mz":770,"int":-1,"ion":"u"},{"mz":853,"int":-5,"ion":"u"},{"mz":936,"int":-3,"ion":"u"},{"mz":952,"int":-2,"ion":"u"},{"mz":1005,"int":-2,"ion":"u"},{"mz":1071,"int":-1,"ion":"u"},{"mz":1274,"int":-1,"ion":"u"},
{"mz":366,"int":50,"ion":"b"},{"mz":366,"int":-100,"ion":"b"},{"mz":479,"int":100,"ion":"b"},{"mz":479,"int":-100,"ion":"b"},{"mz":707,"int":43,"ion":"b"},{"mz":707,"int":-27,"ion":"b"},
{"mz":450,"int":14,"ion":"a"},{"mz":450,"int":-13,"ion":"a"},{"mz":825,"int":9,"ion":"a"},{"mz":825,"int":-6,"ion":"a"}],
"lX":[{"mz":367,"int":58.5,"t":"b₁","ion":"b"},{"mz":522,"int":93,"t":"b₂","ion":"b"},{"mz":712,"int":55,"t":"b4","ion":"b"},{"mz":443,"int":25,"t":"a₂","ion":"a"},{"mz":822,"int":20.6,"t":"a₅","ion":"a"}],
"aX":[{"mz":1294,"int":-16,"t":"1300","role":"axis"},{"mz":1301,"int":-38,"t":"m/z","role":"axis"},{"mz":936,"int":-76,"t":"r = 0.909","role":"r"},{"mz":592,"int":114,"t":"InlB- ₂₈₆HLPEFTNEV₂₉₄","role":"title"},{"mz":-345,"int":107,"t":"x","role":"panel"},{"mz":-92,"int":46.5,"t":"Listeria","role":"src"},{"mz":-92,"int":-47,"t":"synthetic","role":"syn"}],
"none":[{}]
},
"concat":[
{"width":315,"height":209,"resolve":{"axis":{"x":"independent","y":"independent"}},"layer":[
{"data":{"name":"pS"},"mark":{"type":"rule"},"encoding":{"x":{"field":"mz","type":"quantitative","scale":{"domain":[0,1800],"nice":false,"zero":false},"axis":null},"y":{"field":"int","type":"quantitative","scale":{"domain":[-100,100],"nice":false,"zero":false},"axis":{"title":null,"values":[-100,0,100],"labelExpr":"abs(datum.value)+'%'","labelPadding":3}},"y2":{"datum":0},"color":{"field":"ion","type":"nominal","scale":{"domain":["u","uf","y","b","a","imm"],"range":["#a2a2a2","#b0b0b0","#f51b1b","#1d1dff","#111111","#23893a"]},"legend":null},"strokeWidth":{"condition":{"test":"datum.ion==='u' || datum.ion==='uf'","value":2},"value":2.6},"opacity":{"condition":{"test":"datum.ion==='uf'","value":0.55},"value":1}}},
{"data":{"name":"none"},"mark":{"type":"rule","color":"#333","strokeWidth":1.4},"encoding":{"y":{"datum":0,"type":"quantitative","axis":null}}},
{"data":{"name":"sS"},"mark":{"type":"rule","color":"#111","strokeWidth":0.9},"encoding":{"x":{"field":"mz","type":"quantitative","axis":null},"y":{"field":"int","type":"quantitative","axis":null},"x2":{"field":"mz2"},"y2":{"field":"int2"}}},
{"data":{"name":"lS"},"mark":{"type":"text","fontSize":15,"baseline":"middle","align":"center"},"encoding":{"x":{"field":"mz","type":"quantitative","axis":null},"y":{"field":"int","type":"quantitative","axis":null},"text":{"field":"t"},"color":{"field":"ion","type":"nominal","legend":null}}},
{"data":{"name":"aS"},"transform":[{"filter":"datum.role==='axis'"}],"mark":{"type":"text","fontSize":14.5,"baseline":"middle","align":"center","color":"#1a1a1a"},"encoding":{"x":{"field":"mz","type":"quantitative","axis":null},"y":{"field":"int","type":"quantitative","axis":null},"text":{"field":"t"}}},
{"data":{"name":"aS"},"transform":[{"filter":"datum.role==='r'"}],"mark":{"type":"text","fontSize":19,"baseline":"middle","align":"center","color":"#1a1a1a"},"encoding":{"x":{"field":"mz","type":"quantitative","axis":null},"y":{"field":"int","type":"quantitative","axis":null},"text":{"field":"t"}}},
{"data":{"name":"aS"},"transform":[{"filter":"datum.role==='title'"}],"mark":{"type":"text","fontSize":19.3,"baseline":"middle","align":"center","color":"#1a1a1a"},"encoding":{"x":{"field":"mz","type":"quantitative","axis":null},"y":{"field":"int","type":"quantitative","axis":null},"text":{"field":"t"}}},
{"data":{"name":"aS"},"transform":[{"filter":"datum.role==='panel'"}],"mark":{"type":"text","font":"Roboto","fontSize":36,"fontWeight":500,"baseline":"alphabetic","align":"center","color":"#111"},"encoding":{"x":{"field":"mz","type":"quantitative","axis":null},"y":{"field":"int","type":"quantitative","axis":null},"text":{"field":"t"}}},
{"data":{"name":"aS"},"transform":[{"filter":"datum.role==='src'"}],"mark":{"type":"text","fontSize":15.5,"fontStyle":"italic","angle":270,"baseline":"middle","align":"center","color":"#1a1a1a"},"encoding":{"x":{"field":"mz","type":"quantitative","axis":null},"y":{"field":"int","type":"quantitative","axis":null},"text":{"field":"t"}}},
{"data":{"name":"aS"},"transform":[{"filter":"datum.role==='syn'"}],"mark":{"type":"text","fontSize":15.5,"angle":270,"baseline":"middle","align":"center","color":"#1a1a1a"},"encoding":{"x":{"field":"mz","type":"quantitative","axis":null},"y":{"field":"int","type":"quantitative","axis":null},"text":{"field":"t"}}}
]},
{"width":315,"height":209,"resolve":{"axis":{"x":"independent","y":"independent"}},"layer":[
{"data":{"name":"pU"},"mark":{"type":"rule"},"encoding":{"x":{"field":"mz","type":"quantitative","scale":{"domain":[0,1500],"nice":false,"zero":false},"axis":null},"y":{"field":"int","type":"quantitative","scale":{"domain":[-100,100],"nice":false,"zero":false},"axis":{"title":null,"values":[-100,0,100],"labelExpr":"abs(datum.value)+'%'","labelPadding":9}},"y2":{"datum":0},"color":{"field":"ion","type":"nominal","scale":{"domain":["u","uf","y","b","a","imm"],"range":["#a2a2a2","#b0b0b0","#f51b1b","#1d1dff","#111111","#23893a"]},"legend":null},"strokeWidth":{"condition":{"test":"datum.ion==='u' || datum.ion==='uf'","value":2},"value":2.6},"opacity":{"condition":{"test":"datum.ion==='uf'","value":0.55},"value":1}}},
{"data":{"name":"none"},"mark":{"type":"rule","color":"#333","strokeWidth":1.4},"encoding":{"y":{"datum":0,"type":"quantitative","axis":null}}},
{"data":{"name":"sU"},"mark":{"type":"rule","color":"#111","strokeWidth":0.9},"encoding":{"x":{"field":"mz","type":"quantitative","axis":null},"y":{"field":"int","type":"quantitative","axis":null},"x2":{"field":"mz2"},"y2":{"field":"int2"}}},
{"data":{"name":"lU"},"mark":{"type":"text","fontSize":15,"baseline":"middle","align":"center"},"encoding":{"x":{"field":"mz","type":"quantitative","axis":null},"y":{"field":"int","type":"quantitative","axis":null},"text":{"field":"t"},"color":{"field":"ion","type":"nominal","legend":null}}},
{"data":{"name":"aU"},"transform":[{"filter":"datum.role==='axis'"}],"mark":{"type":"text","fontSize":14.5,"baseline":"middle","align":"center","color":"#1a1a1a"},"encoding":{"x":{"field":"mz","type":"quantitative","axis":null},"y":{"field":"int","type":"quantitative","axis":null},"text":{"field":"t"}}},
{"data":{"name":"aU"},"transform":[{"filter":"datum.role==='r'"}],"mark":{"type":"text","fontSize":19,"baseline":"middle","align":"center","color":"#1a1a1a"},"encoding":{"x":{"field":"mz","type":"quantitative","axis":null},"y":{"field":"int","type":"quantitative","axis":null},"text":{"field":"t"}}},
{"data":{"name":"aU"},"transform":[{"filter":"datum.role==='title'"}],"mark":{"type":"text","fontSize":19.3,"baseline":"middle","align":"center","color":"#1a1a1a"},"encoding":{"x":{"field":"mz","type":"quantitative","axis":null},"y":{"field":"int","type":"quantitative","axis":null},"text":{"field":"t"}}},
{"data":{"name":"aU"},"transform":[{"filter":"datum.role==='panel'"}],"mark":{"type":"text","font":"Roboto","fontSize":36,"fontWeight":500,"baseline":"alphabetic","align":"center","color":"#111"},"encoding":{"x":{"field":"mz","type":"quantitative","axis":null},"y":{"field":"int","type":"quantitative","axis":null},"text":{"field":"t"}}},
{"data":{"name":"aU"},"transform":[{"filter":"datum.role==='src'"}],"mark":{"type":"text","fontSize":15.5,"fontStyle":"italic","angle":270,"baseline":"middle","align":"center","color":"#1a1a1a"},"encoding":{"x":{"field":"mz","type":"quantitative","axis":null},"y":{"field":"int","type":"quantitative","axis":null},"text":{"field":"t"}}},
{"data":{"name":"aU"},"transform":[{"filter":"datum.role==='syn'"}],"mark":{"type":"text","fontSize":15.5,"angle":270,"baseline":"middle","align":"center","color":"#1a1a1a"},"encoding":{"x":{"field":"mz","type":"quantitative","axis":null},"y":{"field":"int","type":"quantitative","axis":null},"text":{"field":"t"}}}
]},
{"width":315,"height":209,"resolve":{"axis":{"x":"independent","y":"independent"}},"layer":[
{"data":{"name":"pW"},"mark":{"type":"rule"},"encoding":{"x":{"field":"mz","type":"quantitative","scale":{"domain":[0,1200],"nice":false,"zero":false},"axis":null},"y":{"field":"int","type":"quantitative","scale":{"domain":[-100,100],"nice":false,"zero":false},"axis":{"title":null,"values":[-100,0,100],"labelExpr":"abs(datum.value)+'%'","labelPadding":6}},"y2":{"datum":0},"color":{"field":"ion","type":"nominal","scale":{"domain":["u","uf","y","b","a","imm"],"range":["#a2a2a2","#b0b0b0","#f51b1b","#1d1dff","#111111","#23893a"]},"legend":null},"strokeWidth":{"condition":{"test":"datum.ion==='u' || datum.ion==='uf'","value":2},"value":2.6},"opacity":{"condition":{"test":"datum.ion==='uf'","value":0.55},"value":1}}},
{"data":{"name":"none"},"mark":{"type":"rule","color":"#333","strokeWidth":1.4},"encoding":{"y":{"datum":0,"type":"quantitative","axis":null}}},
{"data":{"name":"lW"},"mark":{"type":"text","fontSize":15,"baseline":"middle","align":"center"},"encoding":{"x":{"field":"mz","type":"quantitative","axis":null},"y":{"field":"int","type":"quantitative","axis":null},"text":{"field":"t"},"color":{"field":"ion","type":"nominal","legend":null}}},
{"data":{"name":"aW"},"transform":[{"filter":"datum.role==='axis'"}],"mark":{"type":"text","fontSize":14.5,"baseline":"middle","align":"center","color":"#1a1a1a"},"encoding":{"x":{"field":"mz","type":"quantitative","axis":null},"y":{"field":"int","type":"quantitative","axis":null},"text":{"field":"t"}}},
{"data":{"name":"aW"},"transform":[{"filter":"datum.role==='r'"}],"mark":{"type":"text","fontSize":19,"baseline":"middle","align":"center","color":"#1a1a1a"},"encoding":{"x":{"field":"mz","type":"quantitative","axis":null},"y":{"field":"int","type":"quantitative","axis":null},"text":{"field":"t"}}},
{"data":{"name":"aW"},"transform":[{"filter":"datum.role==='title'"}],"mark":{"type":"text","fontSize":19.3,"baseline":"middle","align":"center","color":"#1a1a1a"},"encoding":{"x":{"field":"mz","type":"quantitative","axis":null},"y":{"field":"int","type":"quantitative","axis":null},"text":{"field":"t"}}},
{"data":{"name":"aW"},"transform":[{"filter":"datum.role==='panel'"}],"mark":{"type":"text","font":"Roboto","fontSize":36,"fontWeight":500,"baseline":"alphabetic","align":"center","color":"#111"},"encoding":{"x":{"field":"mz","type":"quantitative","axis":null},"y":{"field":"int","type":"quantitative","axis":null},"text":{"field":"t"}}},
{"data":{"name":"aW"},"transform":[{"filter":"datum.role==='src'"}],"mark":{"type":"text","fontSize":15.5,"fontStyle":"italic","angle":270,"baseline":"middle","align":"center","color":"#1a1a1a"},"encoding":{"x":{"field":"mz","type":"quantitative","axis":null},"y":{"field":"int","type":"quantitative","axis":null},"text":{"field":"t"}}},
{"data":{"name":"aW"},"transform":[{"filter":"datum.role==='syn'"}],"mark":{"type":"text","fontSize":15.5,"angle":270,"baseline":"middle","align":"center","color":"#1a1a1a"},"encoding":{"x":{"field":"mz","type":"quantitative","axis":null},"y":{"field":"int","type":"quantitative","axis":null},"text":{"field":"t"}}}
]},
{"width":315,"height":209,"resolve":{"axis":{"x":"independent","y":"independent"}},"layer":[
{"data":{"name":"pT"},"mark":{"type":"rule"},"encoding":{"x":{"field":"mz","type":"quantitative","scale":{"domain":[0,1000],"nice":false,"zero":false},"axis":null},"y":{"field":"int","type":"quantitative","scale":{"domain":[-100,100],"nice":false,"zero":false},"axis":{"title":null,"values":[-100,0,100],"labelExpr":"abs(datum.value)+'%'","labelPadding":2}},"y2":{"datum":0},"color":{"field":"ion","type":"nominal","scale":{"domain":["u","uf","y","b","a","imm"],"range":["#a2a2a2","#b0b0b0","#f51b1b","#1d1dff","#111111","#23893a"]},"legend":null},"strokeWidth":{"condition":{"test":"datum.ion==='u' || datum.ion==='uf'","value":2},"value":2.6},"opacity":{"condition":{"test":"datum.ion==='uf'","value":0.55},"value":1}}},
{"data":{"name":"none"},"mark":{"type":"rule","color":"#333","strokeWidth":1.4},"encoding":{"y":{"datum":0,"type":"quantitative","axis":null}}},
{"data":{"name":"sT"},"mark":{"type":"rule","color":"#111","strokeWidth":0.9},"encoding":{"x":{"field":"mz","type":"quantitative","axis":null},"y":{"field":"int","type":"quantitative","axis":null},"x2":{"field":"mz2"},"y2":{"field":"int2"}}},
{"data":{"name":"lT"},"mark":{"type":"text","fontSize":15,"baseline":"middle","align":"center"},"encoding":{"x":{"field":"mz","type":"quantitative","axis":null},"y":{"field":"int","type":"quantitative","axis":null},"text":{"field":"t"},"color":{"field":"ion","type":"nominal","legend":null}}},
{"data":{"name":"aT"},"transform":[{"filter":"datum.role==='axis'"}],"mark":{"type":"text","fontSize":14.5,"baseline":"middle","align":"center","color":"#1a1a1a"},"encoding":{"x":{"field":"mz","type":"quantitative","axis":null},"y":{"field":"int","type":"quantitative","axis":null},"text":{"field":"t"}}},
{"data":{"name":"aT"},"transform":[{"filter":"datum.role==='r'"}],"mark":{"type":"text","fontSize":19,"baseline":"middle","align":"center","color":"#1a1a1a"},"encoding":{"x":{"field":"mz","type":"quantitative","axis":null},"y":{"field":"int","type":"quantitative","axis":null},"text":{"field":"t"}}},
{"data":{"name":"aT"},"transform":[{"filter":"datum.role==='title'"}],"mark":{"type":"text","fontSize":19.3,"baseline":"middle","align":"center","color":"#1a1a1a"},"encoding":{"x":{"field":"mz","type":"quantitative","axis":null},"y":{"field":"int","type":"quantitative","axis":null},"text":{"field":"t"}}},
{"data":{"name":"aT"},"transform":[{"filter":"datum.role==='panel'"}],"mark":{"type":"text","font":"Roboto","fontSize":36,"fontWeight":500,"baseline":"alphabetic","align":"center","color":"#111"},"encoding":{"x":{"field":"mz","type":"quantitative","axis":null},"y":{"field":"int","type":"quantitative","axis":null},"text":{"field":"t"}}},
{"data":{"name":"aT"},"transform":[{"filter":"datum.role==='src'"}],"mark":{"type":"text","fontSize":15.5,"fontStyle":"italic","angle":270,"baseline":"middle","align":"center","color":"#1a1a1a"},"encoding":{"x":{"field":"mz","type":"quantitative","axis":null},"y":{"field":"int","type":"quantitative","axis":null},"text":{"field":"t"}}},
{"data":{"name":"aT"},"transform":[{"filter":"datum.role==='syn'"}],"mark":{"type":"text","fontSize":15.5,"angle":270,"baseline":"middle","align":"center","color":"#1a1a1a"},"encoding":{"x":{"field":"mz","type":"quantitative","axis":null},"y":{"field":"int","type":"quantitative","axis":null},"text":{"field":"t"}}}
]},
{"width":315,"height":209,"resolve":{"axis":{"x":"independent","y":"independent"}},"layer":[
{"data":{"name":"pV"},"mark":{"type":"rule"},"encoding":{"x":{"field":"mz","type":"quantitative","scale":{"domain":[0,1300],"nice":false,"zero":false},"axis":null},"y":{"field":"int","type":"quantitative","scale":{"domain":[-100,100],"nice":false,"zero":false},"axis":{"title":null,"values":[-100,0,100],"labelExpr":"abs(datum.value)+'%'","labelPadding":9}},"y2":{"datum":0},"color":{"field":"ion","type":"nominal","scale":{"domain":["u","uf","y","b","a","imm"],"range":["#a2a2a2","#b0b0b0","#f51b1b","#1d1dff","#111111","#23893a"]},"legend":null},"strokeWidth":{"condition":{"test":"datum.ion==='u' || datum.ion==='uf'","value":2},"value":2.6},"opacity":{"condition":{"test":"datum.ion==='uf'","value":0.55},"value":1}}},
{"data":{"name":"none"},"mark":{"type":"rule","color":"#333","strokeWidth":1.4},"encoding":{"y":{"datum":0,"type":"quantitative","axis":null}}},
{"data":{"name":"lV"},"mark":{"type":"text","fontSize":15,"baseline":"middle","align":"center"},"encoding":{"x":{"field":"mz","type":"quantitative","axis":null},"y":{"field":"int","type":"quantitative","axis":null},"text":{"field":"t"},"color":{"field":"ion","type":"nominal","legend":null}}},
{"data":{"name":"aV"},"transform":[{"filter":"datum.role==='axis'"}],"mark":{"type":"text","fontSize":14.5,"baseline":"middle","align":"center","color":"#1a1a1a"},"encoding":{"x":{"field":"mz","type":"quantitative","axis":null},"y":{"field":"int","type":"quantitative","axis":null},"text":{"field":"t"}}},
{"data":{"name":"aV"},"transform":[{"filter":"datum.role==='r'"}],"mark":{"type":"text","fontSize":19,"baseline":"middle","align":"center","color":"#1a1a1a"},"encoding":{"x":{"field":"mz","type":"quantitative","axis":null},"y":{"field":"int","type":"quantitative","axis":null},"text":{"field":"t"}}},
{"data":{"name":"aV"},"transform":[{"filter":"datum.role==='title'"}],"mark":{"type":"text","fontSize":19.3,"baseline":"middle","align":"center","color":"#1a1a1a"},"encoding":{"x":{"field":"mz","type":"quantitative","axis":null},"y":{"field":"int","type":"quantitative","axis":null},"text":{"field":"t"}}},
{"data":{"name":"aV"},"transform":[{"filter":"datum.role==='panel'"}],"mark":{"type":"text","font":"Roboto","fontSize":36,"fontWeight":500,"baseline":"alphabetic","align":"center","color":"#111"},"encoding":{"x":{"field":"mz","type":"quantitative","axis":null},"y":{"field":"int","type":"quantitative","axis":null},"text":{"field":"t"}}},
{"data":{"name":"aV"},"transform":[{"filter":"datum.role==='src'"}],"mark":{"type":"text","fontSize":15.5,"fontStyle":"italic","angle":270,"baseline":"middle","align":"center","color":"#1a1a1a"},"encoding":{"x":{"field":"mz","type":"quantitative","axis":null},"y":{"field":"int","type":"quantitative","axis":null},"text":{"field":"t"}}},
{"data":{"name":"aV"},"transform":[{"filter":"datum.role==='syn'"}],"mark":{"type":"text","fontSize":15.5,"angle":270,"baseline":"middle","align":"center","color":"#1a1a1a"},"encoding":{"x":{"field":"mz","type":"quantitative","axis":null},"y":{"field":"int","type":"quantitative","axis":null},"text":{"field":"t"}}}
]},
{"width":315,"height":209,"resolve":{"axis":{"x":"independent","y":"independent"}},"layer":[
{"data":{"name":"pX"},"mark":{"type":"rule"},"encoding":{"x":{"field":"mz","type":"quantitative","scale":{"domain":[0,1300],"nice":false,"zero":false},"axis":null},"y":{"field":"int","type":"quantitative","scale":{"domain":[-100,100],"nice":false,"zero":false},"axis":{"title":null,"values":[-100,0,100],"labelExpr":"abs(datum.value)+'%'","labelPadding":6}},"y2":{"datum":0},"color":{"field":"ion","type":"nominal","scale":{"domain":["u","uf","y","b","a","imm"],"range":["#a2a2a2","#b0b0b0","#f51b1b","#1d1dff","#111111","#23893a"]},"legend":null},"strokeWidth":{"condition":{"test":"datum.ion==='u' || datum.ion==='uf'","value":2},"value":2.6},"opacity":{"condition":{"test":"datum.ion==='uf'","value":0.55},"value":1}}},
{"data":{"name":"none"},"mark":{"type":"rule","color":"#333","strokeWidth":1.4},"encoding":{"y":{"datum":0,"type":"quantitative","axis":null}}},
{"data":{"name":"lX"},"mark":{"type":"text","fontSize":15,"baseline":"middle","align":"center"},"encoding":{"x":{"field":"mz","type":"quantitative","axis":null},"y":{"field":"int","type":"quantitative","axis":null},"text":{"field":"t"},"color":{"field":"ion","type":"nominal","legend":null}}},
{"data":{"name":"aX"},"transform":[{"filter":"datum.role==='axis'"}],"mark":{"type":"text","fontSize":14.5,"baseline":"middle","align":"center","color":"#1a1a1a"},"encoding":{"x":{"field":"mz","type":"quantitative","axis":null},"y":{"field":"int","type":"quantitative","axis":null},"text":{"field":"t"}}},
{"data":{"name":"aX"},"transform":[{"filter":"datum.role==='r'"}],"mark":{"type":"text","fontSize":19,"baseline":"middle","align":"center","color":"#1a1a1a"},"encoding":{"x":{"field":"mz","type":"quantitative","axis":null},"y":{"field":"int","type":"quantitative","axis":null},"text":{"field":"t"}}},
{"data":{"name":"aX"},"transform":[{"filter":"datum.role==='title'"}],"mark":{"type":"text","fontSize":19.3,"baseline":"middle","align":"center","color":"#1a1a1a"},"encoding":{"x":{"field":"mz","type":"quantitative","axis":null},"y":{"field":"int","type":"quantitative","axis":null},"text":{"field":"t"}}},
{"data":{"name":"aX"},"transform":[{"filter":"datum.role==='panel'"}],"mark":{"type":"text","font":"Roboto","fontSize":36,"fontWeight":500,"baseline":"alphabetic","align":"center","color":"#111"},"encoding":{"x":{"field":"mz","type":"quantitative","axis":null},"y":{"field":"int","type":"quantitative","axis":null},"text":{"field":"t"}}},
{"data":{"name":"aX"},"transform":[{"filter":"datum.role==='src'"}],"mark":{"type":"text","fontSize":15.5,"fontStyle":"italic","angle":270,"baseline":"middle","align":"center","color":"#1a1a1a"},"encoding":{"x":{"field":"mz","type":"quantitative","axis":null},"y":{"field":"int","type":"quantitative","axis":null},"text":{"field":"t"}}},
{"data":{"name":"aX"},"transform":[{"filter":"datum.role==='syn'"}],"mark":{"type":"text","fontSize":15.5,"angle":270,"baseline":"middle","align":"center","color":"#1a1a1a"},"encoding":{"x":{"field":"mz","type":"quantitative","axis":null},"y":{"field":"int","type":"quantitative","axis":null},"text":{"field":"t"}}}
]}
]
}
